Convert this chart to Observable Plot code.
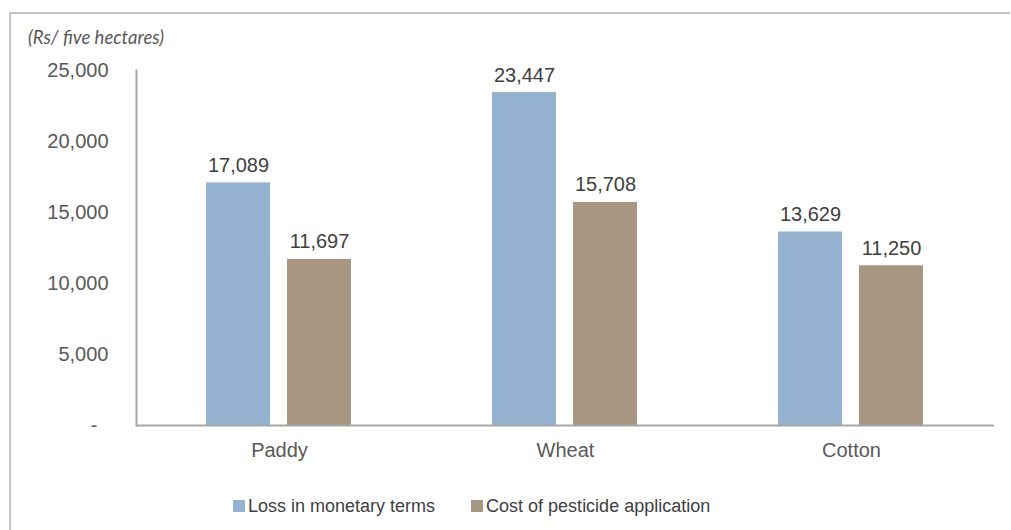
<!DOCTYPE html>
<html>
<head>
<meta charset="utf-8">
<script src="https://cdn.jsdelivr.net/npm/d3@7"></script>
<script src="https://cdn.jsdelivr.net/npm/@observablehq/plot@0.6"></script>
<style>
  html, body { margin: 0; padding: 0; background: #fff; }
  #wrap { position: relative; width: 1011px; height: 530px; overflow: hidden; font-family: "Liberation Sans", Arial, sans-serif; }
  #border { position: absolute; left: 9px; top: 12px; width: 1001px; height: 530px; border-left: 2px solid #c3c3c3; border-top: 2px solid #c3c3c3; box-sizing: border-box; }
  #unit { position: absolute; left: 28px; top: 26px; font-family: Lato, "Open Sans", sans-serif; font-style: italic; font-size: 18.5px; line-height: 22px; color: #595959; }
  #chart { position: absolute; left: 0; top: 0; }
  #chart svg [aria-label="y-axis tick label"], #chart svg [aria-label="fx-axis tick label"] { fill: #595959; }
  #chart svg [aria-label="frame"] { stroke-width: 2; }
  #legend { position: absolute; left: 233px; top: 496px; display: flex; gap: 36px; font-size: 18px; line-height: 20px; color: #404040; }
  .item { display: flex; align-items: center; }
  .sw { width: 12px; height: 12px; margin-right: 3px; }
</style>
</head>
<body>
<div id="wrap">
  <div id="border"></div>
  <div id="unit">(Rs/ five hectares)</div>
  <div id="chart"></div>
  <div id="legend"></div>
</div>
<script>
const crops = ["Paddy", "Wheat", "Cotton"];
const series = ["Loss in monetary terms", "Cost of pesticide application"];
const lossValues = [17089, 23447, 13629];
const costValues = [11697, 15708, 11250];
const seriesColors = ["#95b3d0", "#a69682"];
const yTicks = [0, 5000, 10000, 15000, 20000, 25000];

const data = [];
crops.forEach((c, i) => {
  data.push({crop: c, series: series[0], value: lossValues[i]});
  data.push({crop: c, series: series[1], value: costValues[i]});
});

const fmt = d3.format(",");

const chart = Plot.plot({
  width: 1011,
  height: 470,
  marginLeft: 135,
  marginRight: 17,
  marginTop: 70,
  marginBottom: 45,
  style: {fontFamily: "'Liberation Sans', Arial, sans-serif", fontSize: "20px", color: "#a6a6a6", background: "transparent"},
  fx: {domain: crops, padding: 0, label: null, axis: "bottom", tickSize: 0, tickPadding: 17},
  x: {domain: series, paddingInner: 0.208, paddingOuter: 0.857, axis: null},
  y: {domain: [0, 25000], ticks: yTicks, tickSize: 0, tickPadding: 28, label: null, line: true,
      tickFormat: d => d === 0 ? "-\u00a0\u00a0" : fmt(d)},
  color: {domain: series, range: seriesColors},
  marks: [
    Plot.barY(data, {fx: "crop", x: "series", y: "value", fill: "series"}),
    Plot.ruleY([0], {stroke: "#a6a6a6", strokeWidth: 2}),
    Plot.text(data, {fx: "crop", x: "series", y: "value", text: d => fmt(d.value), lineAnchor: "bottom", dy: -11, fill: "#404040", fontSize: 20})
  ]
});
document.getElementById("chart").appendChild(chart);

const legend = document.getElementById("legend");
series.forEach((s, i) => {
  const item = document.createElement("div");
  item.className = "item";
  const sw = document.createElement("span");
  sw.className = "sw";
  sw.style.background = seriesColors[i];
  const t = document.createElement("span");
  t.textContent = s;
  item.appendChild(sw);
  item.appendChild(t);
  legend.appendChild(item);
});
</script>
</body>
</html>
